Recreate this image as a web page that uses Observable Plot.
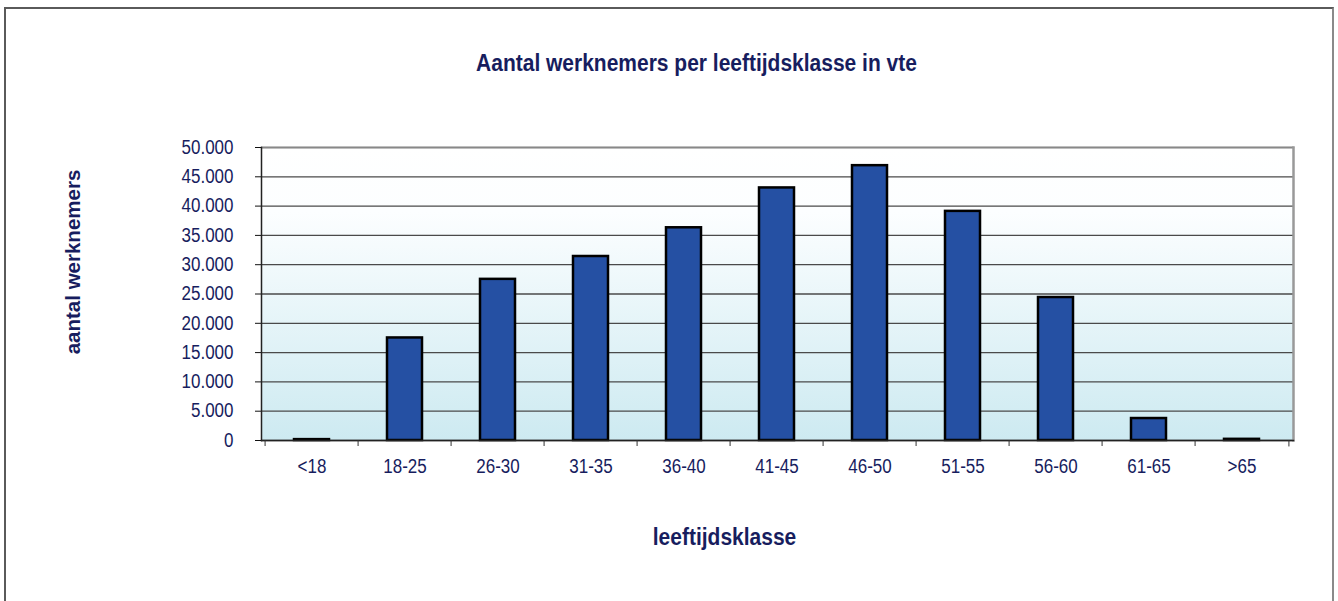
<!DOCTYPE html>
<html>
<head>
<meta charset="utf-8">
<script src="https://cdn.jsdelivr.net/npm/d3@7"></script>
<script src="https://cdn.jsdelivr.net/npm/@observablehq/plot@0.6"></script>
<style>
  html, body { margin: 0; padding: 0; background: #fff; }
  #wrap { position: relative; width: 1338px; height: 601px; overflow: hidden; font-family: "Liberation Sans", Arial, sans-serif; }
  #border { position: absolute; left: 4px; top: 7px; width: 1330px; height: 620px; border: 2px solid #5a5a5a; border-right-color: #8a8a8a; box-sizing: border-box; }
  #chart { position: absolute; left: 0; top: 0; }
</style>
</head>
<body>
<div id="wrap">
  <div id="border"></div>
  <div id="chart"></div>
</div>
<script>
// ---- data ----
const categories = ["<18", "18-25", "26-30", "31-35", "36-40", "41-45", "46-50", "51-55", "56-60", "61-65", ">65"];
const values = [150, 17500, 27500, 31400, 36300, 43100, 46900, 39100, 24400, 3750, 200];
const yTicks = [0, 5000, 10000, 15000, 20000, 25000, 30000, 35000, 40000, 45000, 50000];
const titleText = "Aantal werknemers per leeftijdsklasse in vte";
const xLabel = "leeftijdsklasse";
const yLabel = "aantal werknemers";

const data = categories.map((c, i) => ({age: c, count: values[i]}));

const navy = "#171d5e";
const W = 1338, H = 601;
const mL = 261, mR = 45, mT = 147, mB = 161;
const step = (W - mL - mR) / categories.length;
const fmt = d => d3.format(",")(d).replace(/,/g, ".");

const plot = Plot.plot({
  width: W,
  height: H,
  marginLeft: mL,
  marginRight: mR,
  marginTop: mT,
  marginBottom: mB,
  style: {fontFamily: "'Liberation Sans', Arial, sans-serif", background: "transparent", overflow: "visible"},
  x: {domain: categories, paddingInner: 0.62, paddingOuter: 0.31},
  y: {domain: [0, 50000]},
  marks: [
    Plot.frame({fill: "url(#bg)", stroke: "none"}),
    Plot.gridY(yTicks, {stroke: "#4a4a4a", strokeOpacity: 1, strokeWidth: 1.3}),
    Plot.frame({anchor: "top", stroke: "#888", strokeWidth: 1.5}),
    Plot.frame({anchor: "right", stroke: "#999", strokeWidth: 2.5}),
    Plot.barY(data, {x: "age", y: "count", fill: "#2550a3", stroke: "#000", strokeWidth: 2.5}),
    Plot.frame({anchor: "left", stroke: "#222", strokeWidth: 1.5}),
    Plot.frame({anchor: "bottom", stroke: "#222", strokeWidth: 1.5}),
    Plot.axisY({ticks: yTicks, tickFormat: fmt, tickSize: 6, tickPadding: 22, fontSize: 17, fill: navy, stroke: "#111", label: null}),
    Plot.axisX({tickSize: 0, tickPadding: 19, fontSize: 17, fill: navy, label: null}),
    Plot.axisX({text: null, tickSize: 6, dx: -step / 2, stroke: "#333", label: null}),
    Plot.ruleX([categories[categories.length - 1]], {x: d => d, y1: 0, y2: -1100, dx: step / 2, stroke: "#333"}),
    Plot.text([titleText], {text: d => d, frameAnchor: "top", dx: -81, dy: -84, lineAnchor: "middle", fontSize: 21, fontWeight: "bold", fill: navy}),
    Plot.text([xLabel], {text: d => d, frameAnchor: "bottom", dx: -53, dy: 97, lineAnchor: "middle", fontSize: 21, fontWeight: "bold", fill: navy}),
    Plot.text([yLabel], {text: d => d, frameAnchor: "left", dx: -188, dy: -32, rotate: -90, textAnchor: "middle", lineAnchor: "middle", fontSize: 20.5, fontWeight: "bold", fill: navy, className: "keep"})
  ]
});

const svg = d3.select(plot);

// gradient background for the plot area
const defs = svg.insert("defs", ":first-child");
const grad = defs.append("linearGradient").attr("id", "bg").attr("x1", 0).attr("y1", 0).attr("x2", 0).attr("y2", 1);
grad.append("stop").attr("offset", "0%").attr("stop-color", "#ffffff");
grad.append("stop").attr("offset", "22%").attr("stop-color", "#fcfeff");
grad.append("stop").attr("offset", "100%").attr("stop-color", "#cdeaf1");

// the reference's lettering is slightly taller than it is wide: stretch horizontal text vertically
svg.selectAll("text").each(function() {
  if (this.closest(".keep")) return;
  const el = d3.select(this);
  const t = el.attr("transform") || "";
  el.attr("transform", `${t} scale(1,1.15)`);
});

document.getElementById("chart").appendChild(plot);
</script>
</body>
</html>
